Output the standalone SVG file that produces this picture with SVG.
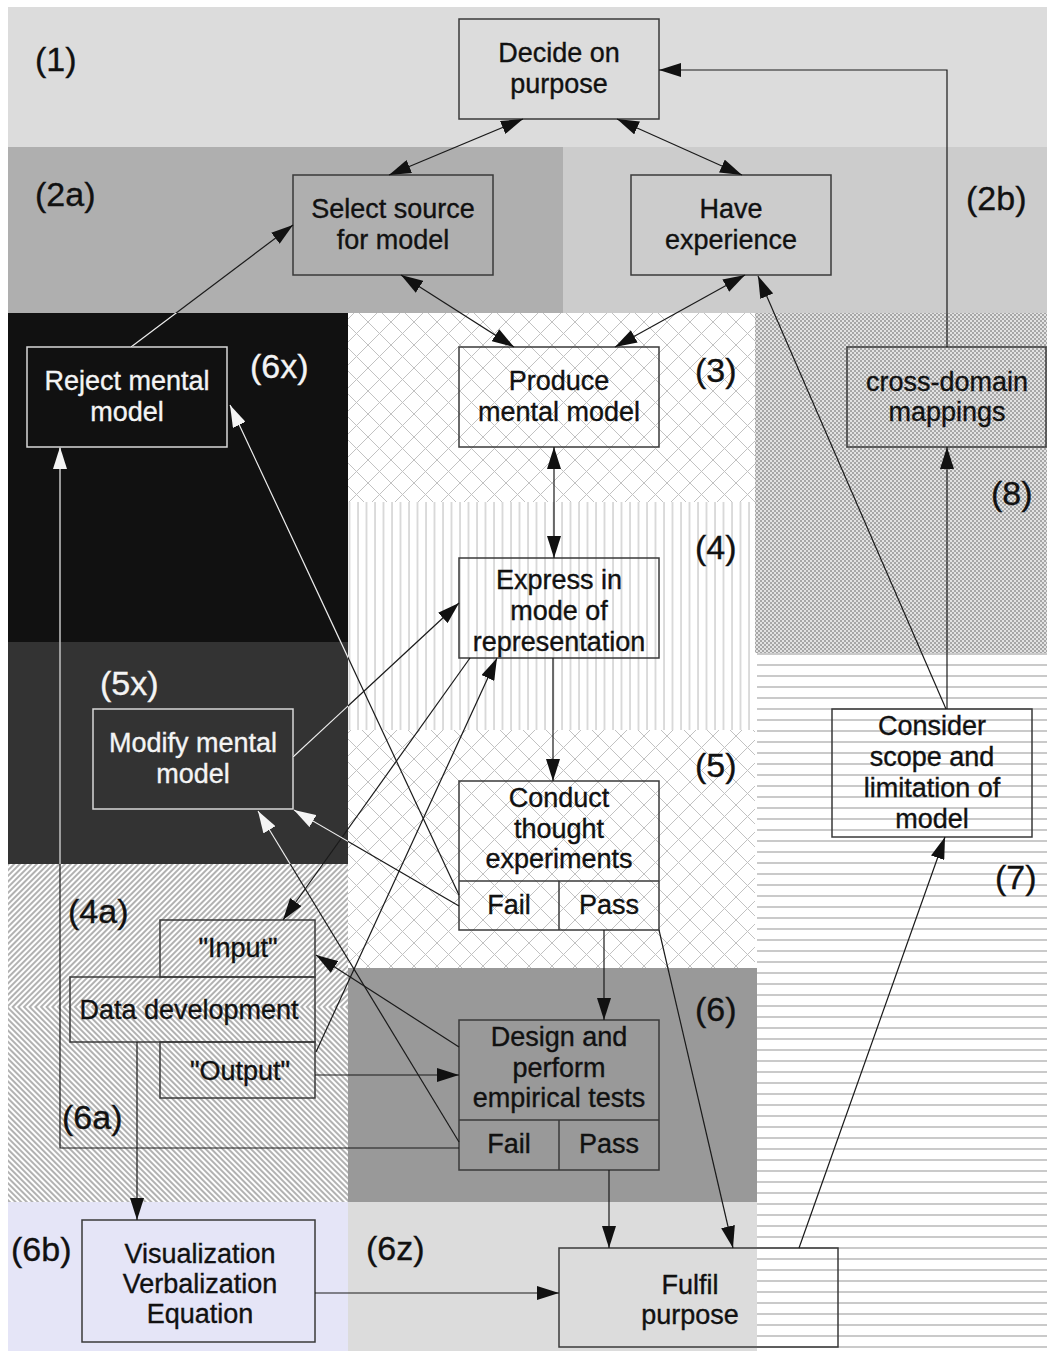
<svg xmlns="http://www.w3.org/2000/svg" width="1047" height="1351" viewBox="0 0 1047 1351">
  <style>
    .t { font-family: "Liberation Sans", Arial, sans-serif; font-size: 27px; fill: #111; stroke: #111; stroke-width: 0.35; text-anchor: middle; }
    .tw { fill: #f4f4f4; stroke: #f4f4f4; }
    .lbl { font-family: "Liberation Sans", Arial, sans-serif; font-size: 34px; fill: #111; stroke: #111; stroke-width: 0.35; }
    .lblw { fill: #f4f4f4; stroke: #f4f4f4; }
    .box { fill: none; stroke: #3a3a3a; stroke-width: 1.5; }
    .boxw { stroke: #d8d8d8; stroke-width: 1.5; }
    .edge { fill: none; stroke: #1a1a1a; stroke-width: 1.2; }
    .edgew { fill: none; stroke: #eeeeee; stroke-width: 1.2; }
  </style>
  <defs>
    <pattern id="xhatch" patternUnits="userSpaceOnUse" width="23" height="23">
      <rect width="23" height="23" fill="#ffffff"/>
      <path d="M0,0 L23,23 M23,0 L0,23" stroke="#c2c2c2" stroke-width="1"/>
    </pattern>
    <pattern id="vstripe" patternUnits="userSpaceOnUse" width="8.5" height="10">
      <rect width="8.5" height="10" fill="#ffffff"/>
      <line x1="1" y1="0" x2="1" y2="10" stroke="#c4c4c4" stroke-width="1.2"/>
    </pattern>
    <pattern id="hstripe" patternUnits="userSpaceOnUse" width="10" height="11">
      <rect width="10" height="11" fill="#ffffff"/>
      <line x1="0" y1="5" x2="10" y2="5" stroke="#bdbdbd" stroke-width="1.6"/>
    </pattern>
    <pattern id="dots" patternUnits="userSpaceOnUse" width="4" height="4">
      <rect width="4" height="4" fill="#e2e2e2"/>
      <rect width="2" height="2" fill="#a6a6a6"/>
      <rect x="2" y="2" width="2" height="2" fill="#a6a6a6"/>
    </pattern>
    <pattern id="hatchUp" patternUnits="userSpaceOnUse" width="4" height="10" patternTransform="rotate(45)">
      <rect width="4" height="10" fill="#ffffff"/>
      <line x1="1" y1="0" x2="1" y2="10" stroke="#888888" stroke-width="1.3"/>
    </pattern>
    <pattern id="hatchDown" patternUnits="userSpaceOnUse" width="4" height="10" patternTransform="rotate(-45)">
      <rect width="4" height="10" fill="#ffffff"/>
      <line x1="1" y1="0" x2="1" y2="10" stroke="#888888" stroke-width="1.3"/>
    </pattern>
    <marker id="arr" viewBox="0 0 22 14" refX="22" refY="7" markerWidth="22" markerHeight="14" markerUnits="userSpaceOnUse" orient="auto-start-reverse">
      <path d="M0,0 L22,7 L0,14 z" fill="#111"/>
    </marker>
    <marker id="arrw" viewBox="0 0 22 14" refX="22" refY="7" markerWidth="22" markerHeight="14" markerUnits="userSpaceOnUse" orient="auto-start-reverse">
      <path d="M0,0 L22,7 L0,14 z" fill="#f4f4f4"/>
    </marker>
    <clipPath id="darkZone">
      <rect x="8" y="313" width="340" height="551"/>
    </clipPath>
  </defs>

  <!-- background bands -->
  <g id="bands">
    <rect x="0" y="0" width="1047" height="1351" fill="#ffffff"/>
    <rect x="8" y="7" width="1039" height="140" fill="#dcdcdc"/>
    <rect x="8" y="147" width="555" height="166" fill="#afafaf"/>
    <rect x="563" y="147" width="484" height="166" fill="#cccccc"/>
    <rect x="8" y="313" width="340" height="329" fill="#111111"/>
    <rect x="8" y="642" width="340" height="222" fill="#333333"/>
    <rect x="8" y="864" width="340" height="143" fill="url(#hatchUp)"/>
    <rect x="8" y="1007" width="340" height="195" fill="url(#hatchDown)"/>
    <rect x="8" y="1202" width="340" height="149" fill="#e5e5f7"/>
    <rect x="348" y="313" width="407" height="189" fill="url(#xhatch)"/>
    <rect x="348" y="502" width="407" height="228" fill="url(#vstripe)"/>
    <rect x="348" y="730" width="407" height="238" fill="url(#xhatch)"/>
    <rect x="348" y="968" width="409" height="234" fill="#999999"/>
    <rect x="348" y="1202" width="409" height="149" fill="#dcdcdc"/>
    <rect x="755" y="313" width="292" height="340" fill="url(#dots)"/>
    <rect x="757" y="653" width="290" height="698" fill="url(#hstripe)"/>
  </g>

  <!-- band labels -->
  <g id="labels">
    <text class="lbl" x="35" y="71">(1)</text>
    <text class="lbl" x="35" y="206">(2a)</text>
    <text class="lbl" x="966" y="210">(2b)</text>
    <text class="lbl lblw" x="250" y="378">(6x)</text>
    <text class="lbl" x="695" y="382">(3)</text>
    <text class="lbl" x="991" y="505">(8)</text>
    <text class="lbl" x="695" y="559">(4)</text>
    <text class="lbl lblw" x="100" y="695">(5x)</text>
    <text class="lbl" x="695" y="777">(5)</text>
    <text class="lbl" x="995" y="889">(7)</text>
    <text class="lbl" x="68" y="923">(4a)</text>
    <text class="lbl" x="695" y="1021">(6)</text>
    <text class="lbl" x="62" y="1129">(6a)</text>
    <text class="lbl" x="11" y="1261">(6b)</text>
    <text class="lbl" x="366" y="1260">(6z)</text>
  </g>

  <!-- process steps -->
  <g id="decide">
    <rect class="box" x="459" y="19" width="200" height="100" fill="#dcdcdc"/>
    <text class="t" x="559" y="62">Decide on</text>
    <text class="t" x="559" y="93">purpose</text>
  </g>
  <g id="select">
    <rect class="box" x="293" y="175" width="200" height="100"/>
    <text class="t" x="393" y="218">Select source</text>
    <text class="t" x="393" y="249">for model</text>
  </g>
  <g id="experience">
    <rect class="box" x="631" y="175" width="200" height="100"/>
    <text class="t" x="731" y="218">Have</text>
    <text class="t" x="731" y="249">experience</text>
  </g>
  <g id="reject">
    <rect class="box boxw" x="27" y="347" width="200" height="100"/>
    <text class="t tw" x="127" y="390">Reject mental</text>
    <text class="t tw" x="127" y="421">model</text>
  </g>
  <g id="produce">
    <rect class="box" x="459" y="347" width="200" height="100"/>
    <text class="t" x="559" y="390">Produce</text>
    <text class="t" x="559" y="421">mental model</text>
  </g>
  <g id="crossdomain">
    <rect class="box" x="847" y="347" width="199" height="100"/>
    <text class="t" x="947" y="391">cross-domain</text>
    <text class="t" x="947" y="421">mappings</text>
  </g>
  <g id="express">
    <rect class="box" x="459" y="558" width="200" height="100"/>
    <text class="t" x="559" y="589">Express in</text>
    <text class="t" x="559" y="620">mode of</text>
    <text class="t" x="559" y="651">representation</text>
  </g>
  <g id="modify">
    <rect class="box boxw" x="93" y="709" width="200" height="100"/>
    <text class="t tw" x="193" y="752">Modify mental</text>
    <text class="t tw" x="193" y="783">model</text>
  </g>
  <g id="consider">
    <rect class="box" x="832" y="709" width="200" height="128"/>
    <text class="t" x="932" y="735">Consider</text>
    <text class="t" x="932" y="766">scope and</text>
    <text class="t" x="932" y="797">limitation of</text>
    <text class="t" x="932" y="828">model</text>
  </g>
  <g id="conduct">
    <rect class="box" x="459" y="781" width="200" height="149"/>
    <line class="box" x1="459" y1="881" x2="659" y2="881"/>
    <line class="box" x1="559" y1="881" x2="559" y2="930"/>
    <text class="t" x="559" y="807">Conduct</text>
    <text class="t" x="559" y="838">thought</text>
    <text class="t" x="559" y="868">experiments</text>
    <text class="t" x="509" y="914">Fail</text>
    <text class="t" x="609" y="914">Pass</text>
  </g>
  <g id="datadev">
    <rect class="box" x="160" y="920" width="155" height="57"/>
    <rect class="box" x="70" y="977" width="245" height="65"/>
    <rect class="box" x="160" y="1042" width="155" height="56"/>
    <text class="t" x="238" y="957">"Input"</text>
    <text class="t" x="189" y="1019">Data development</text>
    <text class="t" x="240" y="1080">"Output"</text>
  </g>
  <g id="design">
    <rect class="box" x="459" y="1020" width="200" height="150"/>
    <line class="box" x1="459" y1="1120" x2="659" y2="1120"/>
    <line class="box" x1="559" y1="1120" x2="559" y2="1170"/>
    <text class="t" x="559" y="1046">Design and</text>
    <text class="t" x="559" y="1077">perform</text>
    <text class="t" x="559" y="1107">empirical tests</text>
    <text class="t" x="509" y="1153">Fail</text>
    <text class="t" x="609" y="1153">Pass</text>
  </g>
  <g id="representations">
    <rect class="box" x="82" y="1220" width="233" height="122" fill="#e5e5f7"/>
    <text class="t" x="200" y="1263">Visualization</text>
    <text class="t" x="200" y="1293">Verbalization</text>
    <text class="t" x="200" y="1323">Equation</text>
  </g>
  <g id="fulfil">
    <rect class="box" x="559" y="1248" width="279" height="99"/>
    <text class="t" x="690" y="1294">Fulfil</text>
    <text class="t" x="690" y="1324">purpose</text>
  </g>

  <!-- connectors -->
  <g id="connectors">
    <path class="edge" d="M523,119 L389,175" marker-start="url(#arr)" marker-end="url(#arr)"/>
    <path class="edge" d="M617,119 L742,175" marker-start="url(#arr)" marker-end="url(#arr)"/>
    <path class="edge" d="M401,275 L514,347" marker-start="url(#arr)" marker-end="url(#arr)"/>
    <path class="edge" d="M745,275 L615,347" marker-start="url(#arr)" marker-end="url(#arr)"/>
    <path class="edge" d="M554,447 L554,558" marker-start="url(#arr)" marker-end="url(#arr)"/>
    <path class="edge" d="M553,658 L553,781" marker-end="url(#arr)"/>
    <path class="edge" d="M604,930 L604,1020" marker-end="url(#arr)"/>
    <path class="edge" d="M609,1170 L609,1248" marker-end="url(#arr)"/>
    <path class="edge" d="M659,930 L733,1248" marker-end="url(#arr)"/>
    <path class="edge" d="M799,1248 L945,837" marker-end="url(#arr)"/>
    <path class="edge" d="M946,709 L758,276" marker-end="url(#arr)"/>
    <path class="edge" d="M947,709 L947,447" marker-end="url(#arr)"/>
    <path class="edge" d="M947,347 L947,70 L659,70" marker-end="url(#arr)"/>
    <path class="edge" d="M131,347 L293,225" marker-end="url(#arr)"/>
    <path class="edge" d="M459,1148 L60,1148 L60,447"/>
    <path class="edge" d="M459,895 L230,405"/>
    <path class="edge" d="M459,906 L294,810"/>
    <path class="edge" d="M459,1142 L258,811"/>
    <path class="edge" d="M293,757 L459,603" marker-end="url(#arr)"/>
    <path class="edge" d="M470,658 L283,920" marker-end="url(#arr)"/>
    <path class="edge" d="M316,1052 L497,658" marker-end="url(#arr)"/>
    <path class="edge" d="M459,1047 L316,955" marker-end="url(#arr)"/>
    <path class="edge" d="M315,1075 L459,1075" marker-end="url(#arr)"/>
    <path class="edge" d="M137,1042 L137,1220" marker-end="url(#arr)"/>
    <path class="edge" d="M315,1293 L559,1293" marker-end="url(#arr)"/>
    <!-- light strokes where the connectors cross the dark bands -->
    <g clip-path="url(#darkZone)">
      <path class="edgew" d="M131,347 L293,225"/>
      <path class="edgew" d="M459,1148 L60,1148 L60,447" marker-end="url(#arrw)"/>
      <path class="edgew" d="M459,895 L230,405" marker-end="url(#arrw)"/>
      <path class="edgew" d="M459,906 L294,810" marker-end="url(#arrw)"/>
      <path class="edgew" d="M459,1142 L258,811" marker-end="url(#arrw)"/>
      <path class="edgew" d="M293,757 L459,603"/>
    </g>
  </g>
</svg>
